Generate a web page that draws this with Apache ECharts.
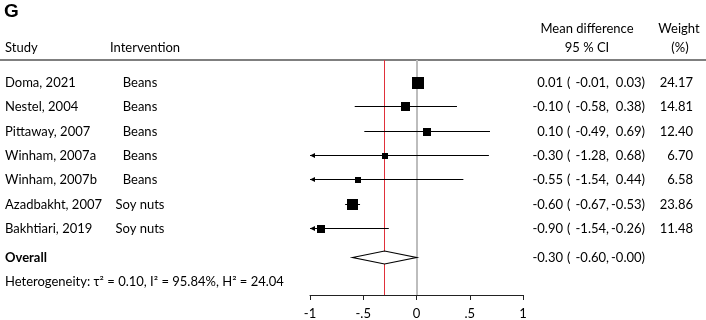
<!DOCTYPE html>
<html>
<head>
<meta charset="utf-8">
<script src="https://cdn.jsdelivr.net/npm/echarts@6/dist/echarts.min.js"></script>
<style>
  html, body { margin: 0; padding: 0; background: #fff; }
  #chart { width: 706px; height: 320px; }
</style>
</head>
<body>
<div id="chart"></div>
<script>
// data
var studies = ['Doma, 2021', 'Nestel, 2004', 'Pittaway, 2007', 'Winham, 2007a', 'Winham, 2007b', 'Azadbakht, 2007', 'Bakhtiari, 2019'];
var interventions = ['Beans', 'Beans', 'Beans', 'Beans', 'Beans', 'Soy nuts', 'Soy nuts'];
var estimates = [0.01, -0.10, 0.10, -0.30, -0.55, -0.60, -0.90];
var lowerCI = [-0.01, -0.58, -0.49, -1.28, -1.54, -0.67, -1.54];
var upperCI = [0.03, 0.38, 0.69, 0.68, 0.44, -0.53, -0.26];
var weights = [24.17, 14.81, 12.40, 6.70, 6.58, 23.86, 11.48];
var overall = [-0.30, -0.60, -0.00];   // est, lower, upper
var tickLabels = { '-1': '-1', '-0.5': '-.5', '0': '0', '0.5': '.5', '1': '1' };
var heterogeneity = 'Heterogeneity: \u03c4\u00b2 = 0.10, I\u00b2 = 95.84%, H\u00b2 = 24.04';

var FONT = 'Lato, "Open Sans", sans-serif';
var FS = 13;
// text columns (px)
var COL = { study: 5, interv: 140, est: 563, paren: 567, lo: 609, hi: 645, wt: 693 };

function fmt(v) {
    var neg = v < 0 || Object.is(v, -0);
    return (neg ? '-' : '') + Math.abs(v).toFixed(2);
}

function txt(x, y, s, align, bold) {
    return {
        type: 'text',
        style: {
            x: x, y: y, text: s,
            textAlign: align || 'left', textVerticalAlign: 'middle',
            fill: '#000', fontSize: FS, fontFamily: FONT, fontWeight: bold ? 'bold' : 'normal'
        }
    };
}

function ciTexts(y, e, lo, hi) {
    return [
        txt(COL.est, y, fmt(e), 'right'),
        txt(COL.paren, y, '(', 'left'),
        txt(COL.lo, y, fmt(lo) + ',', 'right'),
        txt(COL.hi, y, fmt(hi) + ')', 'right')
    ];
}

var studyData = studies.map(function (s, i) {
    return [i, estimates[i], lowerCI[i], upperCI[i], weights[i]];
});

function renderStudy(params, api) {
    var i = params.dataIndex;
    var row = api.value(0), e = api.value(1), lo = api.value(2), hi = api.value(3), w = api.value(4);
    var y = Math.round(api.coord([0, row])[1]) + 0.5;
    var xLo = api.coord([Math.max(lo, -1), row])[0];
    var xHi = api.coord([Math.min(hi, 1), row])[0];
    var xE = api.coord([e, row])[0];
    var s = Math.round(Math.sqrt(w) * 2.35);
    var children = [
        { type: 'line', shape: { x1: xLo, y1: y, x2: xHi, y2: y }, style: { stroke: '#000', lineWidth: 1 } },
        { type: 'rect', shape: { x: Math.round(xE - s / 2), y: Math.round(y - s / 2), width: s, height: s }, style: { fill: '#000' } }
    ];
    if (lo < -1) {
        children.push({ type: 'polygon', shape: { points: [[xLo, y], [xLo + 5, y - 2.5], [xLo + 5, y + 2.5]] }, style: { fill: '#000' } });
    }
    children.push(txt(COL.study, y, studies[i]));
    children.push(txt(COL.interv, y, interventions[i], 'center'));
    children = children.concat(ciTexts(y, e, lo, hi));
    children.push(txt(COL.wt, y, w.toFixed(2), 'right'));
    return { type: 'group', children: children };
}

function renderOverall(params, api) {
    var row = api.value(0), e = api.value(1), lo = api.value(2), hi = api.value(3);
    var y = Math.round(api.coord([0, row])[1]) + 0.5;
    var xLo = api.coord([lo, row])[0], xHi = api.coord([hi, row])[0], xE = api.coord([e, row])[0];
    var h = 6.5;
    var children = [
        { type: 'polygon', shape: { points: [[xLo, y], [xE, y - h], [xHi, y], [xE, y + h]] },
          style: { fill: '#fff', stroke: '#000', lineWidth: 1.2 } },
        txt(COL.study, y, 'Overall', 'left', true)
    ];
    children = children.concat(ciTexts(y, e, lo, hi));
    var yh = api.coord([0, row + 1.05])[1];
    children.push(txt(COL.study, yh, heterogeneity));
    return { type: 'group', children: children };
}

var chart = echarts.init(document.getElementById('chart'), null, { renderer: 'canvas' });
var option = {
    animation: false,
    backgroundColor: '#fff',
    grid: { left: 310, right: 706 - 523, top: 60, bottom: 20 },
    xAxis: {
        type: 'value', min: -1, max: 1, interval: 0.5,
        axisLine: { show: true, onZero: false, lineStyle: { color: '#222', width: 1 } },
        axisTick: { show: true, length: 5, lineStyle: { color: '#222' } },
        axisLabel: {
            color: '#000', fontSize: 13, fontFamily: FONT, margin: 12,
            formatter: function (v) { return tickLabels[String(v)]; }
        },
        splitLine: { show: false }
    },
    yAxis: { type: 'value', inverse: true, min: -0.88, max: 8.72, show: false },
    graphic: [
        { type: 'text', left: 4, top: 2, style: { text: 'G', fontSize: 19, fontWeight: 'bold', fontFamily: 'Liberation Sans, Arial', fill: '#000' } },
        { type: 'line', shape: { x1: 0, y1: 60, x2: 706, y2: 60 }, style: { stroke: '#555', lineWidth: 1.5 } },
        txt(COL.study, 48, 'Study'),
        txt(110, 48, 'Intervention'),
        txt(587, 29, 'Mean difference', 'center'),
        txt(587, 48, '95 % CI', 'center'),
        txt(679, 29, 'Weight', 'center'),
        txt(680, 48, '(%)', 'center')
    ],
    series: [
        {
            type: 'line', data: [], z: 1, silent: true,
            markLine: {
                z: 1, symbol: 'none', silent: true, label: { show: false },
                data: [
                    { xAxis: 0, lineStyle: { color: '#bdbdbd', width: 2, type: 'solid' } },
                    { xAxis: overall[0], lineStyle: { color: '#e0303a', width: 1, type: 'solid' } }
                ]
            }
        },
        { type: 'custom', z: 3, clip: false, renderItem: renderStudy, data: studyData },
        { type: 'custom', z: 3, clip: false, renderItem: renderOverall, data: [[7.15, overall[0], overall[1], overall[2]]] }
    ]
};
chart.setOption(option);
</script>
</body>
</html>
